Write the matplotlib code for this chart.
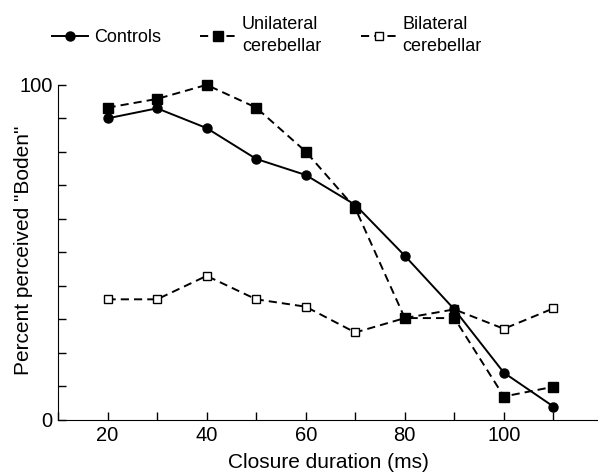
import matplotlib.pyplot as plt
from matplotlib.ticker import MultipleLocator

plt.rcParams['font.family'] = ['Liberation Sans', 'DejaVu Sans']

durations = [20, 30, 40, 50, 60, 70, 80, 90, 100, 110]
controls = [90.0, 93.0, 87.1, 77.9, 73.1, 64.2, 49.0, 33.0, 14.1, 4.0]
unilateral = [93.2, 95.8, 100.0, 93.2, 80.1, 63.2, 30.4, 30.4, 7.0, 9.9]
bilateral = [36.0, 36.0, 43.0, 36.0, 33.8, 26.1, 30.4, 33.0, 27.2, 33.3]

fig = plt.figure(figsize=(5.98, 4.74), dpi=100)
ax = fig.add_axes([0.097, 0.114, 0.903, 0.707])

dash = (0, (4.2, 2.6))
ax.plot(durations, bilateral, linestyle=dash, color='black', lw=1.4,
        marker='s', ms=6, mfc='white', mec='black', mew=1.0, clip_on=False,
        zorder=3, label='Bilateral\ncerebellar')
ax.plot(durations, controls, '-', color='black', lw=1.4, marker='o', ms=6.5,
        clip_on=False, zorder=4, label='Controls')
ax.plot(durations, unilateral, linestyle=dash, color='black', lw=1.4,
        marker='s', ms=6.5, clip_on=False, zorder=5,
        label='Unilateral\ncerebellar')

ax.set_xlim(10, 119)
ax.set_ylim(0, 100)
ax.set_xticks([20, 40, 60, 80, 100])
ax.xaxis.set_minor_locator(MultipleLocator(10))
ax.set_yticks([0, 100])
ax.yaxis.set_minor_locator(MultipleLocator(10))
ax.tick_params(which='both', direction='in', labelsize=14.5, width=1,
               length=6)
ax.tick_params(axis='x', pad=4)
ax.tick_params(axis='y', pad=4)
for s in ['top', 'right']:
    ax.spines[s].set_visible(False)

ax.set_xlabel('Closure duration (ms)', fontsize=15, labelpad=6)
ax.set_ylabel('Percent perceived "Boden"', fontsize=15)
ax.yaxis.set_label_coords(-0.046, 0.507)

h, l = ax.get_legend_handles_labels()
order = [1, 2, 0]
leg = fig.legend([h[i] for i in order], [l[i] for i in order],
                 loc='center left', bbox_to_anchor=(0.06, 0.925), ncol=3,
                 frameon=False, fontsize=13, handlelength=2.0,
                 handletextpad=0.3, columnspacing=2.2)
for t in leg.get_texts():
    t.set_linespacing(1.35)

fig.savefig('out.png', dpi=100)
